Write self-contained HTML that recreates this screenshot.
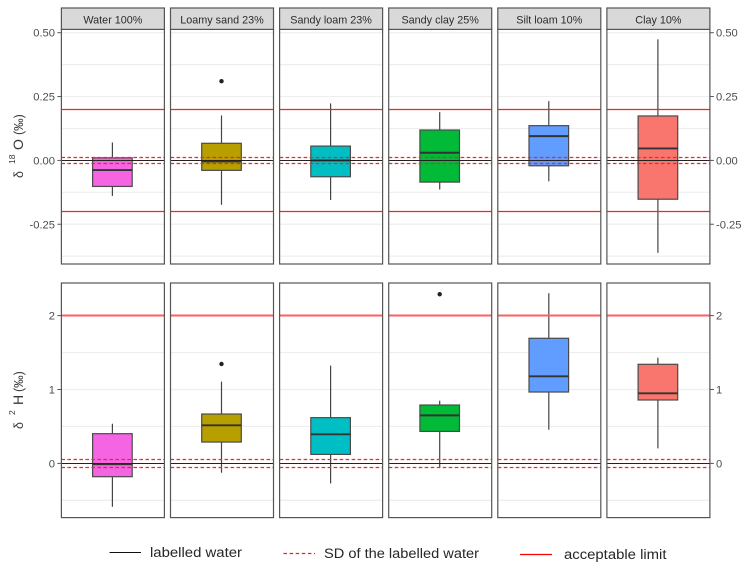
<!DOCTYPE html>
<html lang="en">
<head>
<meta charset="utf-8">
<title>Isotope deviation boxplots by soil type</title>
<style>
html,body{margin:0;padding:0;background:#fff;}
#chart{display:block;width:748px;height:569px;font-family:"Liberation Sans",sans-serif;}
</style>
</head>
<body>
<svg id="chart" xmlns="http://www.w3.org/2000/svg" width="748" height="569" viewBox="0 0 748 569">
  <rect x="0" y="0" width="748" height="569" fill="#ffffff"/>
  <g id="plot"></g>

  <g transform="translate(23,178) rotate(-90)" fill="#383838">
    <text x="0" y="0" font-size="12.5">δ</text>
    <text x="14" y="-8" font-size="8.5">18</text>
    <text x="28" y="0" font-size="14">O</text>
    <text x="43" y="0" font-size="12.5">(‰)</text>
  </g>
  <g transform="translate(23,429) rotate(-90)" fill="#383838">
    <text x="0" y="0" font-size="12.5">δ</text>
    <text x="14" y="-8" font-size="8.5">2</text>
    <text x="24" y="0" font-size="14">H</text>
    <text x="37" y="0" font-size="12.5">(‰)</text>
  </g>

  <g font-family="'Liberation Sans',sans-serif" font-size="13.5" fill="#262626">
    <g>
      <line x1="109.5" x2="141" y1="552.5" y2="552.5" stroke="#111111" stroke-width="1"/>
      <text x="150" y="557" textLength="92" lengthAdjust="spacingAndGlyphs">labelled water</text>
    </g>
    <g>
      <line x1="283.5" x2="315" y1="553.5" y2="553.5" stroke="#ff1a1a" stroke-width="1.2" stroke-dasharray="3.5 2.6"/>
      <text x="324" y="558" textLength="155" lengthAdjust="spacingAndGlyphs">SD of the labelled water</text>
    </g>
    <g>
      <line x1="520" x2="552" y1="554.5" y2="554.5" stroke="#ff0000" stroke-width="1.3"/>
      <text x="564" y="559" textLength="102.5" lengthAdjust="spacingAndGlyphs">acceptable limit</text>
    </g>
  </g>
</svg>
<script>
const categories = ["Water 100%", "Loamy sand 23%", "Sandy loam 23%", "Sandy clay 25%", "Silt loam 10%", "Clay 10%"];

const o18WhiskerHigh = [0.070, 0.176, 0.223, 0.189, 0.232, 0.474];
const o18Q3 = [0.010, 0.067, 0.056, 0.119, 0.136, 0.174];
const o18Median = [-0.038, -0.004, 0.000, 0.030, 0.095, 0.047];
const o18Q1 = [-0.102, -0.039, -0.064, -0.085, -0.021, -0.152];
const o18WhiskerLow = [-0.139, -0.174, -0.155, -0.114, -0.082, -0.362];
const o18Outliers = [[], [0.310], [], [], [], []];
const o18TickValues = [0.5, 0.25, 0, -0.25];
const o18TickLabels = ["0.50", "0.25", "0.00", "-0.25"];
const o18GridValues = [0.5, 0.375, 0.25, 0.125, -0.125, -0.25, -0.375];
const o18Limits = [0.2, -0.2];
const o18Sd = [0.011, -0.011];

const h2WhiskerHigh = [0.537, 1.106, 1.323, 0.849, 2.303, 1.431];
const h2Q3 = [0.402, 0.668, 0.619, 0.790, 1.693, 1.341];
const h2Median = [-0.010, 0.515, 0.393, 0.650, 1.178, 0.948];
const h2Q1 = [-0.180, 0.289, 0.122, 0.433, 0.966, 0.858];
const h2WhiskerLow = [-0.587, -0.126, -0.271, -0.059, 0.456, 0.203];
const h2Outliers = [[], [1.345], [], [2.289], [], []];
const h2TickValues = [2, 1, 0];
const h2TickLabels = ["2", "1", "0"];
const h2GridValues = [1.5, 1, 0.5, -0.5];
const h2Limits = [2];
const h2Sd = [0.057, -0.057];

const fillColors = ["#F564E3", "#B79F00", "#00BFC4", "#00BA38", "#619CFF", "#F8766D"];

const NS = "http://www.w3.org/2000/svg";
const root = document.getElementById("plot");

function add(parent, tag, attrs, name) {
  const el = document.createElementNS(NS, tag);
  for (const k in attrs) el.setAttribute(k, attrs[k]);
  
  
  parent.appendChild(el);
  return el;
}

const panelWidth = 103;
function panelLeft(i) { return 61.4 + i * 109.1; }
function panelCenter(i) { return panelLeft(i) + 51; }
function yO18(v) { return 160.4 - v * 255.4; }
function yH2(v) { return 463.4 - v * 73.9; }
function snap(p) { return Math.floor(p) + 0.5; }

function drawRow(cfg) {
  const y = cfg.scale;
  categories.forEach(function (cat, i) {
    const x0 = panelLeft(i);
    const x1 = x0 + panelWidth;
    const slug = cfg.key + "-" + cat.toLowerCase().replace(/[^a-z0-9]+/g, "-").replace(/-$/, "");
    const g = add(root, "g", {}, "panel-" + slug);

    add(g, "rect", { x: x0, y: cfg.top, width: panelWidth, height: cfg.bottom - cfg.top, fill: "#ffffff" }, "panel-background");

    cfg.grid.forEach(function (v) {
      add(g, "line", { x1: x0, x2: x1, y1: y(v), y2: y(v), stroke: "#eeeeee", "stroke-width": 1.2 }, "gridline");
    });

    const cx = panelCenter(i);
    const boxHalf = 19.8;
    add(g, "line", { x1: cx, x2: cx, y1: y(cfg.whiskerHigh[i]), y2: y(cfg.q3[i]), stroke: "#444444", "stroke-width": 1.2 }, "whisker-upper");
    add(g, "line", { x1: cx, x2: cx, y1: y(cfg.q1[i]), y2: y(cfg.whiskerLow[i]), stroke: "#444444", "stroke-width": 1.2 }, "whisker-lower");
    add(g, "rect", {
      x: cx - boxHalf, y: y(cfg.q3[i]), width: boxHalf * 2,
      height: y(cfg.q1[i]) - y(cfg.q3[i]),
      fill: fillColors[i], stroke: "#4a4a4a", "stroke-width": 1.2
    }, "box");
    add(g, "line", { x1: cx - boxHalf, x2: cx + boxHalf, y1: y(cfg.median[i]), y2: y(cfg.median[i]), stroke: "#333333", "stroke-width": 1.9 }, "median");
    cfg.outliers[i].forEach(function (v) {
      add(g, "circle", { cx: cx, cy: y(v), r: 2.2, fill: "#222222" }, "outlier");
    });

    cfg.limits.forEach(function (v) {
      add(g, "line", { x1: x0, x2: x1, y1: snap(y(v)), y2: snap(y(v)), stroke: cfg.limitColor, "stroke-width": cfg.limitWidth }, "acceptable-limit-line");
    });
    add(g, "line", { x1: x0, x2: x1, y1: snap(y(0)), y2: snap(y(0)), stroke: "#222222", "stroke-width": 1 }, "labelled-water-line");
    cfg.sd.forEach(function (v) {
      add(g, "line", { x1: x0, x2: x1, y1: snap(y(v)), y2: snap(y(v)), stroke: "#ff2020", "stroke-width": 1.3, "stroke-dasharray": "3.6 2.4" }, "sd-line");
    });

    add(g, "rect", { x: x0, y: cfg.top, width: panelWidth, height: cfg.bottom - cfg.top, fill: "none", stroke: "#555555", "stroke-width": 1.2 }, "panel-border");

    if (cfg.strips) {
      add(g, "rect", { x: x0, y: 8, width: panelWidth, height: cfg.top - 8, fill: "#d9d9d9", stroke: "#555555", "stroke-width": 1.2 }, "facet-strip");
      const t = add(g, "text", { x: x0 + panelWidth / 2, y: 23.3, "text-anchor": "middle", "font-size": 10.8, fill: "#2b2b2b" }, "facet-label");
      t.textContent = cat;
    }
  });

  const leftEdge = panelLeft(0);
  const rightEdge = panelLeft(categories.length - 1) + panelWidth;
  cfg.tickValues.forEach(function (v, i) {
    const py = y(v);
    add(root, "line", { x1: leftEdge - 4, x2: leftEdge, y1: py, y2: py, stroke: "#555555", "stroke-width": 1 }, "y-tick-left");
    add(root, "line", { x1: rightEdge, x2: rightEdge + 4, y1: py, y2: py, stroke: "#555555", "stroke-width": 1 }, "y-tick-right");
    const l = add(root, "text", { x: 55, y: py + 4, "text-anchor": "end", "font-size": 11.2, fill: "#4d4d4d" }, "y-tick-label-left");
    l.textContent = cfg.tickLabels[i];
    const r = add(root, "text", { x: 716, y: py + 4, "text-anchor": "start", "font-size": 11.2, fill: "#4d4d4d" }, "y-tick-label-right");
    r.textContent = cfg.tickLabels[i];
  });
}

drawRow({
  key: "oxygen", scale: yO18, top: 29.4, bottom: 264, strips: true,
  whiskerHigh: o18WhiskerHigh, q3: o18Q3, median: o18Median, q1: o18Q1, whiskerLow: o18WhiskerLow,
  outliers: o18Outliers, tickValues: o18TickValues, tickLabels: o18TickLabels,
  grid: o18GridValues, limits: o18Limits, sd: o18Sd, limitColor: "#ff2020", limitWidth: 1.3
});
drawRow({
  key: "hydrogen", scale: yH2, top: 283, bottom: 517.6, strips: false,
  whiskerHigh: h2WhiskerHigh, q3: h2Q3, median: h2Median, q1: h2Q1, whiskerLow: h2WhiskerLow,
  outliers: h2Outliers, tickValues: h2TickValues, tickLabels: h2TickLabels,
  grid: h2GridValues, limits: h2Limits, sd: h2Sd, limitColor: "#ff5f5f", limitWidth: 2
});
</script>
</body>
</html>
